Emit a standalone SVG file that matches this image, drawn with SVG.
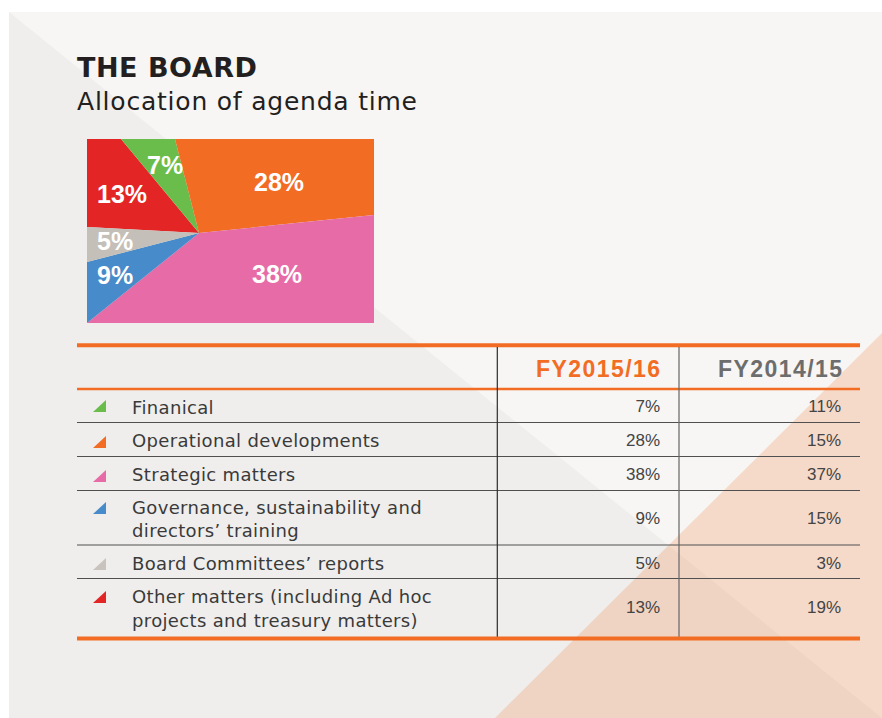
<svg xmlns="http://www.w3.org/2000/svg" width="882" height="718" viewBox="0 0 882 718">
<style>
.lbl{font-family:"DejaVu Sans","Liberation Sans",sans-serif;font-size:18px;fill:#3a3a3a;letter-spacing:0.35px}
.num{font-family:"Liberation Sans",Arial,sans-serif;font-size:17px;fill:#444;text-anchor:end}
.pie{font-family:"Liberation Sans",Arial,sans-serif;font-size:25px;font-weight:bold;fill:#fff}
.hdr{font-family:"Liberation Sans",Arial,sans-serif;font-size:23px;font-weight:bold}
.rowline{stroke:#505050;stroke-width:1.2}
.orange{stroke:#f26c23}
</style>
<rect x="0" y="0" width="882" height="718" fill="#ffffff"/>
<g id="background">
<rect x="9" y="12" width="873" height="706" fill="#f7f6f4"/>
<polygon points="9,12 882,718 9,718" fill="#efeeec"/>
<polygon points="495,718 882,333 882,718" fill="#f26c23" fill-opacity="0.2"/>
</g>
<g id="title">
<text x="77" y="77" font-family="DejaVu Sans, Liberation Sans, sans-serif" font-size="27" font-weight="bold" fill="#231f20" textLength="180">THE BOARD</text>
<text x="77" y="110" font-family="DejaVu Sans, Liberation Sans, sans-serif" font-size="25" fill="#231f20" textLength="340">Allocation of agenda time</text>
</g>
<g id="pie-chart">
<polygon points="87,139 121,139 199,233 87,227" fill="#e32526"/>
<polygon points="121,139 175,139 199,233" fill="#6bbd4b"/>
<polygon points="175,139 374,139 374,215 199,233" fill="#f26c23"/>
<polygon points="199,233 374,215 374,323 87,323" fill="#e66ba7"/>
<polygon points="199,233 87,323 87,262" fill="#478bca"/>
<polygon points="199,233 87,262 87,227" fill="#c4bfb8"/>
<text class="pie" x="147" y="174">7%</text>
<text class="pie" x="254" y="191">28%</text>
<text class="pie" x="97" y="203">13%</text>
<text class="pie" x="97" y="250">5%</text>
<text class="pie" x="97" y="284">9%</text>
<text class="pie" x="252" y="283">38%</text>
</g>
<g id="table-lines">
<line x1="77" y1="345.3" x2="860" y2="345.3" class="orange" stroke-width="4"/>
<line x1="77" y1="389" x2="860" y2="389" class="orange" stroke-width="2.3"/>
<line x1="77" y1="422.5" x2="860" y2="422.5" class="rowline"/>
<line x1="77" y1="456.5" x2="860" y2="456.5" class="rowline"/>
<line x1="77" y1="490.5" x2="860" y2="490.5" class="rowline"/>
<line x1="77" y1="545" x2="860" y2="545" class="rowline"/>
<line x1="77" y1="578.5" x2="860" y2="578.5" class="rowline"/>
<line x1="497.3" y1="347" x2="497.3" y2="637" stroke="#2b2b2b" stroke-width="1.2"/>
<line x1="679" y1="347" x2="679" y2="637" stroke="#666" stroke-width="1.2"/>
<line x1="77" y1="638.5" x2="860" y2="638.5" class="orange" stroke-width="3.8"/>
</g>
<g id="header">
<text class="hdr" x="536" y="377" fill="#f26c23" textLength="124">FY2015/16</text>
<text class="hdr" x="718" y="377" fill="#6d6d6d" textLength="124">FY2014/15</text>
</g>
<g id="row-financial">
<polygon points="93,412 106,412 106,400" fill="#6bbd4b"/>
<text class="lbl" x="132" y="414">Finanical</text>
<text class="num" x="660" y="412">7%</text>
<text class="num" x="841" y="412">11%</text>
</g>
<g id="row-operational">
<polygon points="93,448 106,448 106,436" fill="#f26c23"/>
<text class="lbl" x="132" y="447">Operational developments</text>
<text class="num" x="660" y="446">28%</text>
<text class="num" x="841" y="446">15%</text>
</g>
<g id="row-strategic">
<polygon points="93,482 106,482 106,470" fill="#e66ba7"/>
<text class="lbl" x="132" y="481">Strategic matters</text>
<text class="num" x="660" y="479.5">38%</text>
<text class="num" x="841" y="479.5">37%</text>
</g>
<g id="row-governance">
<polygon points="93,514 106,514 106,502" fill="#478bca"/>
<text class="lbl" x="132" y="514">Governance, sustainability and</text>
<text class="lbl" x="132" y="537">directors’ training</text>
<text class="num" x="660" y="524">9%</text>
<text class="num" x="841" y="524">15%</text>
</g>
<g id="row-committees">
<polygon points="93,570 106,570 106,558" fill="#c8c4bd"/>
<text class="lbl" x="132" y="570">Board Committees’ reports</text>
<text class="num" x="660" y="569">5%</text>
<text class="num" x="841" y="569">3%</text>
</g>
<g id="row-other">
<polygon points="93,603 106,603 106,591" fill="#e32526"/>
<text class="lbl" x="132" y="603">Other matters (including Ad hoc</text>
<text class="lbl" x="132" y="627">projects and treasury matters)</text>
<text class="num" x="660" y="613">13%</text>
<text class="num" x="841" y="613">19%</text>
</g>
</svg>
